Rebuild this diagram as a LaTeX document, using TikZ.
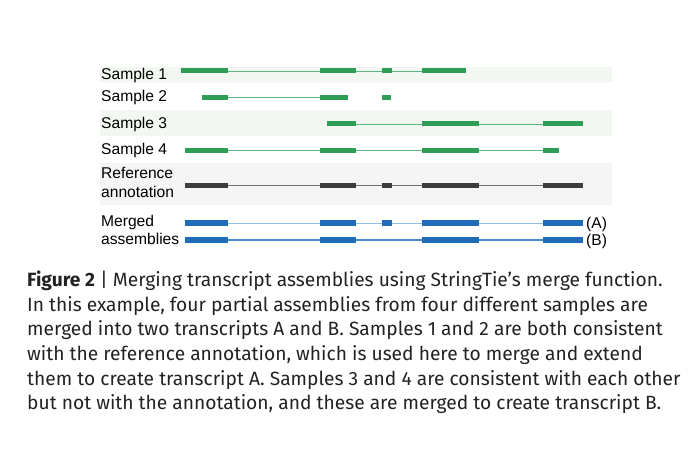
\documentclass[tikz,border=0pt]{standalone}
\usepackage{fontspec}
\setmainfont{Liberation Sans}
\newfontfamily\capfont{Fira Sans}
\definecolor{exgreen}{HTML}{2E9E57}
\definecolor{ingreen}{HTML}{5DB97D}
\definecolor{exgray}{HTML}{3C3C3C}
\definecolor{ingray}{HTML}{707070}
\definecolor{exblue}{HTML}{1F6DB8}
\definecolor{inblueA}{HTML}{92BFE6}
\definecolor{inblueB}{HTML}{4A8FD0}
\definecolor{bandgreen}{HTML}{F3F7F2}
\definecolor{bandgray}{HTML}{F5F5F5}
\definecolor{captext}{HTML}{222222}
\begin{document}
\begin{tikzpicture}[x=1pt, y=-1pt,
  every node/.style={inner sep=0pt, anchor=base west, font=\fontsize{15.6}{18}\selectfont},
  exon/.style={line width=5pt},
  intron/.style={line width=0.9pt},
  caption/.style={font=\capfont\fontsize{19.2}{22}\selectfont, text=captext}]
  \useasboundingbox (0,0) rectangle (697,457);

  % background bands
  \fill[bandgreen] (100,66.7) rectangle (612,82.7);
  \fill[bandgreen] (100,110) rectangle (612,136);
  \fill[bandgray] (100,163) rectangle (612,205);

  % Sample 1
  \node (s1) at (101,80) {Sample 1};
  \draw[intron, ingreen] (180.7,71) -- (466,71);
  \foreach \a/\b in {180.7/227.7, 320/355.7, 382/392.3, 422.3/466}
    \draw[exon, exgreen] (\a,71) -- (\b,71);

  % Sample 2
  \node (s2) at (101,101.7) {Sample 2};
  \draw[intron, ingreen] (202,97.3) -- (348,97.3);
  \foreach \a/\b in {202/227.7, 320/348, 382/391.3}
    \draw[exon, exgreen] (\a,97.3) -- (\b,97.3);

  % Sample 3
  \node (s3) at (101,128.3) {Sample 3};
  \draw[intron, ingreen] (326.7,124) -- (583,124);
  \foreach \a/\b in {326.7/355.7, 422.3/479.3, 543.3/583}
    \draw[exon, exgreen] (\a,124) -- (\b,124);

  % Sample 4
  \node (s4) at (101,155) {Sample 4};
  \draw[intron, ingreen] (185.3,150.7) -- (559.3,150.7);
  \foreach \a/\b in {185.3/227.7, 320/355.7, 422.3/479.3, 543.3/559.3}
    \draw[exon, exgreen] (\a,150.7) -- (\b,150.7);

  % reference annotation
  \node (ref1) at (101,179) {Reference};
  \node (ref2) at (101,197.3) {annotation};
  \draw[intron, ingray] (185.3,185.7) -- (583,185.7);
  \foreach \a/\b in {185.3/227.7, 320/355.7, 382/392.3, 422.3/479.3, 543.3/583}
    \draw[exon, exgray, line width=5.5pt] (\a,185.7) -- (\b,185.7);

  % merged assemblies
  \node (mrg1) at (101,226.7) {Merged};
  \node (mrg2) at (101,245) {assemblies};
  \draw[intron, inblueA, line width=1.1pt] (185.3,223.3) -- (583,223.3);
  \foreach \a/\b in {185.3/227.7, 320/355.7, 382/392.3, 422.3/479.3, 543.3/583}
    \draw[exon, exblue, line width=6pt] (\a,223.3) -- (\b,223.3);
  \draw[intron, inblueB, line width=1.1pt] (185.3,240) -- (583,240);
  \foreach \a/\b in {185.3/227.7, 320/355.7, 422.3/479.3, 543.3/583}
    \draw[exon, exblue, line width=6pt] (\a,240) -- (\b,240);
  \node (labA) at (586,229) {(A)};
  \node (labB) at (586,245.7) {(B)};

  % caption
  \node[caption] (cap1) at (27,286.7) {\textbf{Figure 2} | Merging transcript assemblies using StringTie’s merge function.};
  \node[caption] (cap2) at (27,311.3) {In this example, four partial assemblies from four different samples are};
  \node[caption] (cap3) at (27,335.9) {merged into two transcripts A and B. Samples 1 and 2 are both consistent};
  \node[caption] (cap4) at (27,360.5) {with the reference annotation, which is used here to merge and extend};
  \node[caption] (cap5) at (27,385.1) {them to create transcript A. Samples 3 and 4 are consistent with each other};
  \node[caption] (cap6) at (27,409.7) {but not with the annotation, and these are merged to create transcript B.};
\end{tikzpicture}
\end{document}
